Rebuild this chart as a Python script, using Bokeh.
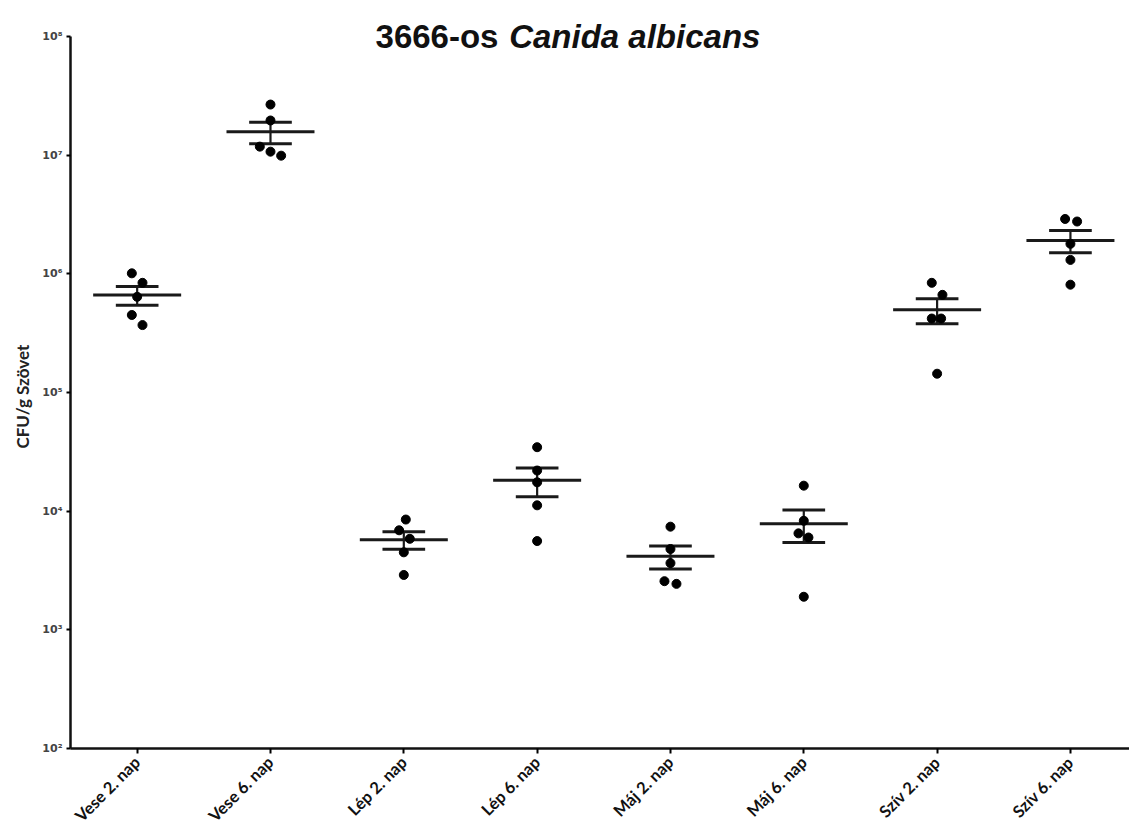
import numpy as np
from math import pi
from bokeh.plotting import figure
from bokeh.models import Range1d, FixedTicker, Label, Title
from bokeh.embed import file_html
from bokeh.resources import INLINE

# ---- data ----
categories = ["Vese 2. nap", "Vese 6. nap", "Lép 2. nap", "Lép 6. nap",
              "Máj 2. nap", "Máj 6. nap", "Szív 2. nap", "Szív 6. nap"]
vese2 = [1.01e6, 8.4e5, 6.4e5, 4.5e5, 3.7e5]
vese6 = [2.67e7, 1.96e7, 1.18e7, 1.07e7, 9.9e6]
lep2 = [8.5e3, 6.9e3, 5.85e3, 4.5e3, 2.9e3]
lep6 = [3.46e4, 2.2e4, 1.75e4, 1.12e4, 5.6e3]
maj2 = [7.4e3, 4.8e3, 3.65e3, 2.57e3, 2.44e3]
maj6 = [1.64e4, 8.3e3, 6.5e3, 6.0e3, 1.9e3]
sziv2 = [8.4e5, 6.65e5, 4.2e5, 4.2e5, 1.44e5]
sziv6 = [2.9e6, 2.76e6, 1.79e6, 1.31e6, 8.1e5]
groups = [vese2, vese6, lep2, lep6, maj2, maj6, sziv2, sziv6]

# horizontal spread of overlapping dots (category units)
jitter = [
    [-0.04, 0.04, 0.0, -0.04, 0.04],
    [0.0, 0.0, -0.08, 0.0, 0.08],
    [0.015, -0.035, 0.045, 0.0, 0.0],
    [0.0, 0.0, 0.0, 0.0, 0.0],
    [0.0, 0.0, 0.0, -0.045, 0.045],
    [0.0, 0.0, -0.04, 0.035, 0.0],
    [-0.04, 0.04, -0.04, 0.03, 0.0],
    [-0.04, 0.05, 0.0, 0.0, 0.0],
]

y_ticks = [1e2, 1e3, 1e4, 1e5, 1e6, 1e7, 1e8]
y_tick_labels = ["10²", "10³", "10⁴", "10⁵", "10⁶", "10⁷", "10⁸"]

title_a = "3666-os"
title_b = "Canida albicans"
y_label = "CFU/g Szövet"

# ---- derived stats ----
centers = [i + 0.5 for i in range(len(categories))]
means = [float(np.mean(g)) for g in groups]
sems = [float(np.std(g, ddof=1) / np.sqrt(len(g))) for g in groups]

pts_x, pts_y = [], []
for c, g, j in zip(centers, groups, jitter):
    for v, dx in zip(g, j):
        pts_x.append(c + dx)
        pts_y.append(v)

# frame spans up to the top of the figure so the title sits inside it;
# the y axis line is bounded to 10^2..10^8
y_top = 10 ** (8 + 36 / 118.67)

p = figure(width=1129, height=836, y_axis_type="log",
           x_range=Range1d(0, 7.943), y_range=Range1d(1e2, y_top),
           output_backend="svg", toolbar_location=None,
           min_border_left=70, min_border_top=0, min_border_right=0,
           min_border_bottom=88)
p.outline_line_color = None
p.xgrid.visible = False
p.ygrid.visible = False

MEAN_HW = 0.33
CAP_HW = 0.16
line_col = "#1a1a1a"

# mean lines
p.segment(x0=[c - MEAN_HW for c in centers], x1=[c + MEAN_HW for c in centers],
          y0=means, y1=means, line_color=line_col, line_width=3)
# SEM stems
p.segment(x0=centers, x1=centers,
          y0=[m - s for m, s in zip(means, sems)], y1=[m + s for m, s in zip(means, sems)],
          line_color=line_col, line_width=2.2)
# caps
for sign in (1, -1):
    p.segment(x0=[c - CAP_HW for c in centers], x1=[c + CAP_HW for c in centers],
              y0=[m + sign * s for m, s in zip(means, sems)],
              y1=[m + sign * s for m, s in zip(means, sems)],
              line_color=line_col, line_width=3)

p.scatter(x=pts_x, y=pts_y, size=9, marker="circle", fill_color="black", line_color="black")

# axes
p.xaxis.ticker = FixedTicker(ticks=centers)
p.xaxis.major_label_overrides = {c: lab for c, lab in zip(centers, categories)}
p.xaxis.major_label_orientation = pi / 4
p.xaxis.major_label_text_font = "Lato"
p.xaxis.major_label_text_font_style = "bold"
p.xaxis.major_label_text_font_size = "16.5px"
p.xaxis.major_label_text_color = "#111111"
p.xaxis.axis_line_width = 2.5
p.xaxis.axis_line_color = "#111111"
p.xaxis.major_tick_line_width = 2
p.xaxis.major_tick_out = 5
p.xaxis.major_tick_in = 0
p.xaxis.minor_tick_line_color = None
p.xaxis.major_label_standoff = 6

p.yaxis.ticker = FixedTicker(ticks=y_ticks, minor_ticks=[])
p.yaxis.bounds = (1e2, 1e8)
p.yaxis.major_label_overrides = {t: lab for t, lab in zip(y_ticks, y_tick_labels)}
p.yaxis.major_label_text_font = "DejaVu Sans"
p.yaxis.major_label_text_font_style = "bold"
p.yaxis.major_label_text_font_size = "11px"
p.yaxis.major_label_text_color = "#444444"
p.yaxis.axis_line_width = 2.5
p.yaxis.axis_line_color = "#111111"
p.yaxis.major_tick_line_width = 2
p.yaxis.major_tick_out = 4
p.yaxis.major_tick_in = 0
p.yaxis.minor_tick_line_color = None
p.yaxis.major_label_standoff = 4

# y axis title as a side-panel title, started at the lower part of the axis
p.add_layout(Title(text=y_label, align="left", offset=300, standoff=13,
                   text_font="Lato", text_font_style="bold",
                   text_font_size="17px", text_color="#222222"), "left")

# title (mixed upright / italic), baseline level with the top of the axis
p.add_layout(Label(x=3.21, y=1e8, text=title_a,
                   text_align="right", text_baseline="alphabetic",
                   text_font="Liberation Sans", text_font_style="bold",
                   text_font_size="33px", text_color="#111111"))
p.add_layout(Label(x=3.29, y=1e8, text=title_b,
                   text_align="left", text_baseline="alphabetic",
                   text_font="Liberation Sans", text_font_style="bold italic",
                   text_font_size="33px", text_color="#111111"))

open("out.html", "w").write(file_html(p, INLINE))
